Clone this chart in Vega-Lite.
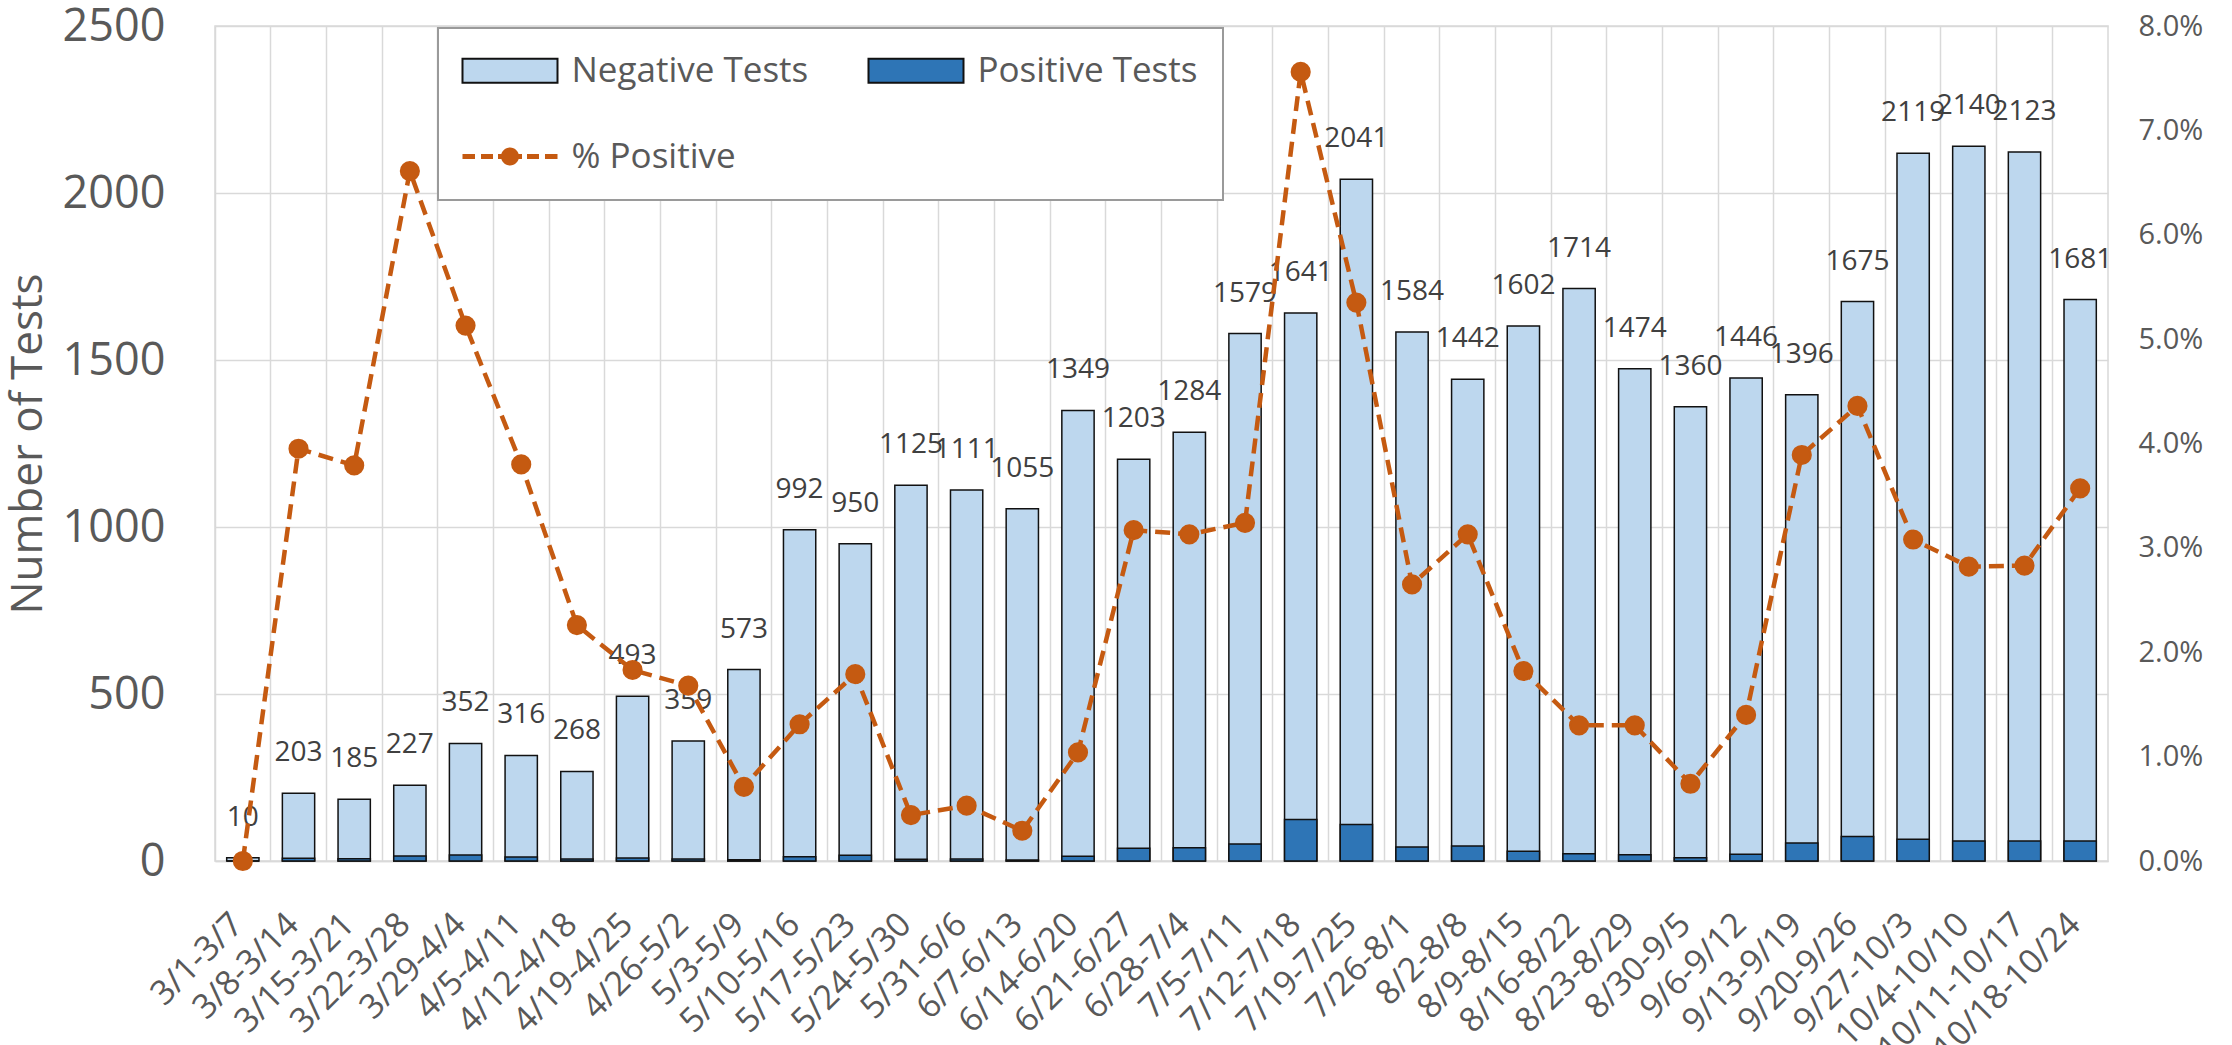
{
  "$schema": "https://vega.github.io/schema/vega-lite/v6.json",
  "width": 1893,
  "height": 835,
  "autosize": {"type": "none"},
  "padding": {"left": 215, "top": 26, "right": 124, "bottom": 184},
  "background": "white",
  "config": {
    "font": "Open Sans",
    "view": {"stroke": "#D9D9D9", "strokeWidth": 1.5},
    "axis": {"labelColor": "#595959", "titleColor": "#595959", "labelFont": "Open Sans", "titleFont": "Open Sans", "labelOverlap": false},
    "legend": {
      "title": null, "orient": "none", "legendX": 223, "legendY": 2, "columns": 2,
      "padding": 25, "rowPadding": 50, "columnPadding": 55, "labelOffset": 44, "symbolOffset": 29.5,
      "labelFontSize": 35, "labelColor": "#595959", "labelFont": "Open Sans", "labelLimit": 400,
      "strokeColor": "#9A9A9A", "fillColor": "white", "symbolSize": 1296
    }
  },
  "data": {
    "values": [
      {"week": "3/1-3/7", "total": 10, "positive": 0, "pct": 0.0},
      {"week": "3/8-3/14", "total": 203, "positive": 8, "pct": 0.0395},
      {"week": "3/15-3/21", "total": 185, "positive": 7, "pct": 0.0379},
      {"week": "3/22-3/28", "total": 227, "positive": 15, "pct": 0.0661},
      {"week": "3/29-4/4", "total": 352, "positive": 18, "pct": 0.0513},
      {"week": "4/5-4/11", "total": 316, "positive": 12, "pct": 0.038},
      {"week": "4/12-4/18", "total": 268, "positive": 6, "pct": 0.0226},
      {"week": "4/19-4/25", "total": 493, "positive": 9, "pct": 0.0183},
      {"week": "4/26-5/2", "total": 359, "positive": 6, "pct": 0.0168},
      {"week": "5/3-5/9", "total": 573, "positive": 4, "pct": 0.0071},
      {"week": "5/10-5/16", "total": 992, "positive": 13, "pct": 0.0131},
      {"week": "5/17-5/23", "total": 950, "positive": 17, "pct": 0.0179},
      {"week": "5/24-5/30", "total": 1125, "positive": 5, "pct": 0.0044},
      {"week": "5/31-6/6", "total": 1111, "positive": 6, "pct": 0.0053},
      {"week": "6/7-6/13", "total": 1055, "positive": 3, "pct": 0.0029},
      {"week": "6/14-6/20", "total": 1349, "positive": 14, "pct": 0.0104},
      {"week": "6/21-6/27", "total": 1203, "positive": 38, "pct": 0.0317},
      {"week": "6/28-7/4", "total": 1284, "positive": 40, "pct": 0.0313},
      {"week": "7/5-7/11", "total": 1579, "positive": 51, "pct": 0.0324},
      {"week": "7/12-7/18", "total": 1641, "positive": 124, "pct": 0.0756},
      {"week": "7/19-7/25", "total": 2041, "positive": 109, "pct": 0.0535},
      {"week": "7/26-8/1", "total": 1584, "positive": 42, "pct": 0.0265},
      {"week": "8/2-8/8", "total": 1442, "positive": 45, "pct": 0.0313},
      {"week": "8/9-8/15", "total": 1602, "positive": 29, "pct": 0.0182},
      {"week": "8/16-8/22", "total": 1714, "positive": 22, "pct": 0.013},
      {"week": "8/23-8/29", "total": 1474, "positive": 19, "pct": 0.013},
      {"week": "8/30-9/5", "total": 1360, "positive": 10, "pct": 0.0074},
      {"week": "9/6-9/12", "total": 1446, "positive": 20, "pct": 0.014},
      {"week": "9/13-9/19", "total": 1396, "positive": 54, "pct": 0.0389},
      {"week": "9/20-9/26", "total": 1675, "positive": 73, "pct": 0.0436},
      {"week": "9/27-10/3", "total": 2119, "positive": 65, "pct": 0.0308},
      {"week": "10/4-10/10", "total": 2140, "positive": 60, "pct": 0.0282},
      {"week": "10/11-10/17", "total": 2123, "positive": 60, "pct": 0.0283},
      {"week": "10/18-10/24", "total": 1681, "positive": 60, "pct": 0.0357}
    ]
  },
  "encoding": {
    "x": {
      "field": "week", "type": "nominal", "sort": null,
      "scale": {"paddingInner": 0, "paddingOuter": 0},
      "axis": {
        "title": null, "bandPosition": 0, "grid": true, "gridColor": "#D9D9D9", "gridWidth": 1.5,
        "domainColor": "#D9D9D9", "domainWidth": 1.5, "ticks": false,
        "labelAngle": -45, "labelAlign": "right", "labelBaseline": "middle",
        "labelFontSize": 34, "labelPadding": 58, "labelOffset": -5, "labelLimit": 400
      }
    }
  },
  "layer": [
    {
      "layer": [
        {
          "mark": {"type": "bar", "width": {"band": 0.58}, "stroke": "#111111", "strokeWidth": 1.5},
          "encoding": {
            "y": {
              "field": "total", "type": "quantitative",
              "scale": {"domain": [0, 2500], "nice": false},
              "axis": {
                "values": [0, 500, 1000, 1500, 2000, 2500], "format": "d", "grid": true, "gridColor": "#D9D9D9", "gridWidth": 1.5,
                "domain": false, "ticks": false, "tickSize": 0, "labelFontSize": 45, "labelPadding": 50,
                "title": "Number of Tests", "titleFontSize": 44, "titleFontWeight": "normal", "titlePadding": 12
              }
            },
            "fill": {
              "datum": "Negative Tests",
              "scale": {"domain": ["Negative Tests", "Positive Tests", "% Positive"], "range": ["#BDD7EE", "#2E75B6", "#C55A11"]},
              "legend": {
                "values": ["Negative Tests", "% Positive", "Positive Tests"],
                "encode": {
                  "legend": {"update": {"strokeWidth": {"value": 2}}},
                  "symbols": {"update": {
                    "shape": {"signal": "datum.value === '% Positive' ? 'M-2.639,-0.139H-1.944V0.139H-2.639Z M-1.611,-0.139H-0.944V0.139H-1.611Z M-0.667,-0.139H0.667V0.139H-0.667Z M0.944,-0.139H1.611V0.139H0.944Z M1.944,-0.139H2.639V0.139H1.944Z M-0.5,0A0.5,0.5 0 1,1 0.5,0A0.5,0.5 0 1,1 -0.5,0Z' : 'M-2.639,-0.667H2.639V0.667H-2.639Z'"},
                    "size": {"value": 1296},
                    "strokeWidth": {"signal": "datum.value === '% Positive' ? 0 : 2"},
                    "strokeDash": {"value": []},
                    "opacity": {"value": 1},
                    "fillOpacity": {"value": 1}
                  }}
                }
              }
            }
          }
        },
        {
          "mark": {"type": "bar", "width": {"band": 0.58}, "stroke": "#111111", "strokeWidth": 1.5},
          "encoding": {
            "y": {"field": "positive", "type": "quantitative"},
            "fill": {
              "datum": "Positive Tests",
              "legend": {
                "values": ["Negative Tests", "% Positive", "Positive Tests"],
                "encode": {
                  "legend": {"update": {"strokeWidth": {"value": 2}}},
                  "symbols": {"update": {
                    "shape": {"signal": "datum.value === '% Positive' ? 'M-2.639,-0.139H-1.944V0.139H-2.639Z M-1.611,-0.139H-0.944V0.139H-1.611Z M-0.667,-0.139H0.667V0.139H-0.667Z M0.944,-0.139H1.611V0.139H0.944Z M1.944,-0.139H2.639V0.139H1.944Z M-0.5,0A0.5,0.5 0 1,1 0.5,0A0.5,0.5 0 1,1 -0.5,0Z' : 'M-2.639,-0.667H2.639V0.667H-2.639Z'"},
                    "size": {"value": 1296},
                    "strokeWidth": {"signal": "datum.value === '% Positive' ? 0 : 2"},
                    "strokeDash": {"value": []},
                    "opacity": {"value": 1},
                    "fillOpacity": {"value": 1}
                  }}
                }
              }
            }
          }
        },
        {
          "mark": {"type": "text", "baseline": "alphabetic", "dy": -32, "fontSize": 28, "color": "#404040", "font": "Open Sans"},
          "encoding": {
            "y": {"field": "total", "type": "quantitative"},
            "text": {"field": "total", "type": "quantitative"}
          }
        }
      ]
    },
    {
      "mark": {
        "type": "line", "strokeWidth": 4.5, "strokeDash": [15, 8],
        "point": {"filled": true, "size": 330, "fill": "#C55A11", "stroke": "#C55A11", "opacity": 1}
      },
      "encoding": {
        "y": {
          "field": "pct", "type": "quantitative",
          "scale": {"domain": [0, 0.08], "nice": false},
          "axis": {
            "orient": "right", "format": ".1%", "values": [0, 0.01, 0.02, 0.03, 0.04, 0.05, 0.06, 0.07, 0.08],
            "grid": false, "domain": false, "ticks": false, "tickSize": 0, "labelFontSize": 29, "labelPadding": 30, "title": null
          }
        },
        "stroke": {
          "datum": "% Positive",
          "scale": {"domain": ["Negative Tests", "Positive Tests", "% Positive"], "range": ["#111111", "#111111", "#C55A11"]},
          "legend": {
            "values": ["Negative Tests", "% Positive", "Positive Tests"],
            "encode": {
              "legend": {"update": {"strokeWidth": {"value": 2}}},
              "symbols": {"update": {
                "shape": {"signal": "datum.value === '% Positive' ? 'M-2.639,-0.139H-1.944V0.139H-2.639Z M-1.611,-0.139H-0.944V0.139H-1.611Z M-0.667,-0.139H0.667V0.139H-0.667Z M0.944,-0.139H1.611V0.139H0.944Z M1.944,-0.139H2.639V0.139H1.944Z M-0.5,0A0.5,0.5 0 1,1 0.5,0A0.5,0.5 0 1,1 -0.5,0Z' : 'M-2.639,-0.667H2.639V0.667H-2.639Z'"},
                "size": {"value": 1296},
                "strokeWidth": {"signal": "datum.value === '% Positive' ? 0 : 2"},
                "strokeDash": {"value": []},
                "opacity": {"value": 1},
                "fillOpacity": {"value": 1}
              }}
            }
          }
        }
      }
    }
  ],
  "resolve": {"scale": {"y": "independent"}}
}
